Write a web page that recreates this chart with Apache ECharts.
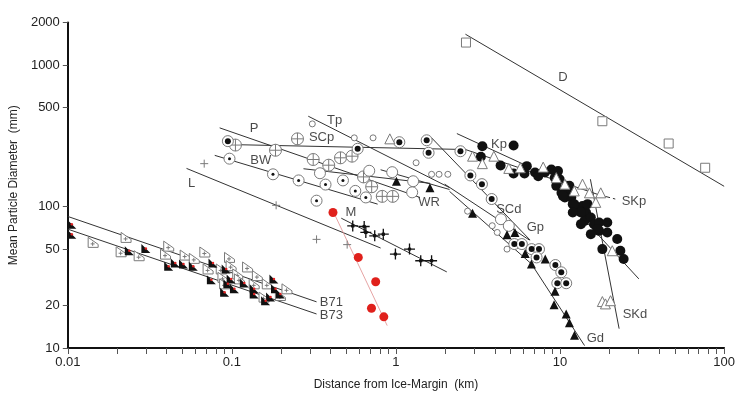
<!DOCTYPE html>
<html>
<head>
<meta charset="utf-8">
<script src="https://cdn.jsdelivr.net/npm/echarts@6/dist/echarts.min.js"></script>
<style>
html, body { margin: 0; padding: 0; background: #fff; }
#main { width: 738px; height: 396px; }
</style>
</head>
<body>
<div id="main"></div>
<script>
// axis ticks and labels
let xTickValues = [];
[0.01, 0.1, 1, 10].forEach(d => {
    for (let k = 1; k < 10; k++) xTickValues.push(+(d * k).toPrecision(3));
});
xTickValues.push(100);
let yLabelValues = [10, 20, 50, 100, 500, 1000, 2000];

// points, [distance km, diameter mm]
let b71_pts = [[0.01427, 55.8], [0.02265, 60.5], [0.02113, 47.9], [0.02721, 44.9], [0.0412, 52.5], [0.0394, 46.1],
    [0.0519, 45.4], [0.059, 43.0], [0.0684, 47.7], [0.0967, 43.7], [0.0989, 38.2], [0.0716, 36.2], [0.0861, 36.2],
    [0.1085, 33.4], [0.1111, 30.8], [0.0882, 31.6], [0.0903, 28.4], [0.143, 32.5], [0.1367, 28.4], [0.1643, 28.4],
    [0.2166, 26.2], [0.157, 22.9], [0.1975, 23.5], [0.1246, 37.4]];
let b73_pts = [[0.01058, 75.1], [0.01058, 63.8], [0.0237, 48.7], [0.0299, 50.6], [0.0412, 37.8], [0.0452, 39.9],
    [0.0507, 39.3], [0.0582, 37.8], [0.0767, 39.9], [0.075, 30.4], [0.0923, 36.2], [0.0989, 30.8], [0.0945, 28.4],
    [0.1036, 26.2], [0.0903, 24.8], [0.119, 28.8], [0.1367, 26.2], [0.1367, 24.1], [0.1605, 21.6], [0.172, 22.9],
    [0.1803, 30.8], [0.1844, 26.2], [0.1975, 24.1]];
let l_pts = [[0.0678, 201], [0.186, 102], [0.328, 58.6], [0.504, 53.8]];
let m_pts = [[0.545, 73.0], [0.64, 72.3], [0.655, 65.6], [0.742, 62.1], [0.837, 63.8], [0.992, 46.1], [1.209, 50.0],
    [1.415, 41.4], [1.648, 41.4]];
let m_red_pts = [[0.413, 90.7], [0.589, 43.7], [0.752, 29.4], [0.709, 19.1], [0.843, 16.6]];
let bw_pts = [[0.0967, 218], [0.178, 169], [0.255, 153], [0.372, 143], [0.475, 153], [0.565, 129], [0.655, 116],
    [0.328, 110]];
let p_pts = [[0.1051, 272], [0.1844, 250], [0.251, 301], [0.313, 215], [0.389, 196], [0.459, 221], [0.54, 227],
    [0.634, 162], [0.711, 138], [0.825, 118], [0.955, 118]];
let scp_pts = [[0.0945, 290], [0.584, 256], [1.048, 285], [1.538, 294], [1.58, 240], [2.47, 246]];
let scd_pts = [[2.84, 166], [3.34, 144], [3.83, 113], [5.26, 54.3], [5.85, 54.3], [6.71, 50.0], [7.44, 50.0],
    [7.19, 43.7], [9.36, 38.6], [10.17, 34.3], [9.62, 28.7], [10.9, 28.7]];
let tp_pts = [[0.309, 384], [0.557, 306], [0.725, 306], [1.326, 204], [1.648, 169], [1.83, 169], [2.07, 169],
    [2.73, 92.7], [3.86, 73.2], [4.14, 65.6], [4.75, 50.0]];
let wr_pts = [[0.344, 172], [0.687, 179], [0.948, 175], [1.272, 151], [1.255, 126], [4.36, 81.4], [4.87, 73.0]];
let g_pts = [[1.006, 151], [1.61, 136], [2.93, 89.7], [4.75, 63.3], [5.31, 65.6], [6.13, 46.5], [6.69, 39.3],
    [8.12, 42.6], [9.31, 25.2], [9.19, 20.2], [10.9, 17.4], [11.4, 15.1], [12.24, 12.3]];
let kp_pts = [[3.36, 267], [5.21, 270], [3.29, 225], [4.34, 195], [5.21, 171], [6.27, 193], [6.07, 171], [7.04, 174],
    [7.36, 164], [8.08, 174], [8.85, 183], [9.71, 178], [9.28, 160], [9.94, 156], [9.48, 140], [10.9, 140],
    [11.4, 129], [10.2, 125], [10.7, 116], [11.7, 116], [11.95, 104], [13.7, 101], [13.1, 93.1], [14.4, 90.7],
    [14.1, 79.2], [15.4, 83.7], [13.4, 75.1], [16.1, 75.1], [17.3, 77.1], [19.4, 77.1], [17.3, 67.3], [19.4, 65.6],
    [22.3, 58.9], [13.4, 90.7], [14.7, 104], [16.9, 69.2], [15.4, 63.8], [18.1, 50.0], [23.3, 48.7], [24.4, 42.6],
    [10.4, 119], [11.4, 140], [12.2, 104], [11.95, 90.7]];
let skp_pts = [[2.93, 227], [3.36, 201], [3.95, 227], [4.87, 186], [5.72, 188], [7.89, 190], [9.48, 160],
    [10.7, 144], [12.2, 129], [13.7, 144], [15.1, 125], [17.7, 125], [16.5, 107], [20.8, 48.7], [18.1, 21.3],
    [18.9, 20.5], [20.3, 21.6], [0.917, 301]];
let d_pts = [[2.67, 1443], [18.1, 401], [45.9, 279], [76.6, 188]];

// fitted lines
let b71_line = [[0.01, 85.1], [0.328, 21.2]];
let b73_line = [[0.01, 69.2], [0.328, 17.4]];
let l_line = [[0.0529, 186], [0.806, 50.9]];
let m_line = [[0.464, 82.7], [2.04, 34.5]];
let m_red_line = [[0.413, 93.1], [0.884, 14.4]];
let bw_line = [[0.0786, 230], [0.773, 104]];
let p_line = [[0.0842, 360], [1.40, 116]];
let scp_line = [[0.0882, 275], [2.65, 253]];
let tp_line = [[0.292, 435], [2.12, 136]];
let wr_line1 = [[0.273, 185], [1.61, 146]];
let wr_line2 = [[0.806, 182], [2.12, 132]];
let scd_line = [[1.648, 306], [6.57, 57.9]];
let gp_line = [[1.98, 144], [6.51, 57.9]];
let gd_line = [[2.12, 128], [6.69, 39.3], [14.1, 10.4]];
let kp_line = [[2.35, 328], [5.99, 199]];
let skp_line = [[2.65, 253], [16.9, 122]];
let skp_dash = [[16.9, 122], [21.7, 113]];
let kd_line = [[14.3, 78.8], [30.2, 30.8]];
let skd_line = [[15.3, 156], [22.9, 13.7]];
let d_line = [[2.65, 1653], [100, 139]];

// text labels
let labelNames = ['D', 'Kp', 'SKp', 'SKd', 'Gd', 'SCd', 'Gp', 'WR', 'Tp', 'SCp', 'P', 'BW', 'L', 'M', 'B71', 'B73'];
let labelPos = [[10.4, 818], [4.24, 275], [28.2, 109], [28.6, 17.2], [16.4, 11.6], [4.87, 95.7], [7.07, 71.1],
    [1.59, 107], [0.423, 405], [0.352, 306], [0.1367, 354], [0.15, 212], [0.0569, 145], [0.532, 90.7],
    [0.404, 21.1], [0.404, 17.0]];

let fontFamily = 'Liberation Sans, Arial, sans-serif';
let grayEdge = '#7a7a7a';

let circlePlus = 'path://M10,5 A5,5 0 1 1 0,5 A5,5 0 1 1 10,5 Z M0,5 L10,5 M5,0 L5,10';
let plusPath = 'path://M5,0 L5,10 M0,5 L10,5';
let starDot = 'path://M4.4,0 H5.6 V4.4 H10 V5.6 H5.6 V10 H4.4 V5.6 H0 V4.4 H4.4 Z M3.2,5 A1.8,1.8 0 1 1 6.8,5 A1.8,1.8 0 1 1 3.2,5 Z';
let bOpenPath = 'path://M0,0 L10,7 L10,10 L0,10 Z M2.5,6.5 L6.5,6.5 M4.5,4.5 L4.5,8.5';
let bFillPath = 'path://M0,0 L10,10 L0,10 Z';

function scatter(data, symbol, size, fill, edge, edgeWidth, z) {
    return {
        type: 'scatter',
        data: data,
        symbol: symbol,
        symbolSize: size,
        silent: true,
        z: z || 3,
        itemStyle: {
            color: fill,
            borderColor: edge || fill,
            borderWidth: edgeWidth || 0,
            opacity: 1
        }
    };
}

function fitLine(data, color, width, dashed) {
    return {
        type: 'line',
        data: data,
        symbol: 'none',
        silent: true,
        z: 2,
        lineStyle: {color: color || '#333', width: width || 1, type: dashed ? [5, 3] : 'solid'}
    };
}

let series = [
    fitLine(b71_line), fitLine(b73_line), fitLine(l_line), fitLine(m_line),
    fitLine(m_red_line, '#e39a9a', 0.9), fitLine(bw_line), fitLine(p_line), fitLine(scp_line),
    fitLine(tp_line), fitLine(wr_line1), fitLine(wr_line2), fitLine(scd_line), fitLine(gp_line),
    fitLine(gd_line), fitLine(kp_line), fitLine(skp_line), fitLine(skp_dash, '#333', 1, true),
    fitLine(kd_line), fitLine(skd_line), fitLine(d_line),

    scatter(b71_pts, bOpenPath, [10, 10], '#fff', grayEdge, 1),
    scatter(b73_pts, bFillPath, [9, 9], '#111', '#111', 0, 4),
    scatter(b73_pts, 'circle', 2.5, '#d22', '#d22', 0, 5),
    scatter(l_pts, plusPath, 8, 'none', grayEdge, 1),
    scatter(m_pts, starDot, 11, '#111'),
    scatter(m_red_pts, 'circle', 9, '#e0201b'),
    scatter(bw_pts, 'circle', 11, '#fff', grayEdge, 1),
    scatter(bw_pts, 'circle', 3, '#111', '#111', 0, 4),
    scatter(p_pts, circlePlus, 12, '#fff', grayEdge, 1),
    scatter(scp_pts.concat(scd_pts), 'circle', 11, '#fff', grayEdge, 1),
    scatter(scp_pts.concat(scd_pts), 'circle', 6, '#111', '#111', 0, 4),
    scatter(tp_pts, 'circle', 6, '#fff', grayEdge, 1),
    scatter(wr_pts, 'circle', 11, '#fff', grayEdge, 1),
    scatter(g_pts, 'triangle', 9, '#111'),
    scatter(kp_pts, 'circle', 10, '#111'),
    scatter(skp_pts, 'triangle', 10, '#fff', grayEdge, 1),
    scatter(d_pts, 'rect', 9, '#fff', grayEdge, 1),
    {
        type: 'scatter',
        silent: true,
        symbolSize: 0,
        z: 6,
        data: labelNames.map((n, i) => ({name: n, value: labelPos[i]})),
        label: {
            show: true,
            position: 'inside',
            formatter: '{b}',
            color: '#1a1a1a',
            fontSize: 13,
            fontFamily: fontFamily
        }
    }
];

let chart = echarts.init(document.getElementById('main'));

let option = {
    animation: false,
    backgroundColor: '#fff',
    grid: {left: 63, right: 10, top: 22.5, bottom: 46.7},
    xAxis: {
        type: 'log',
        min: 0.01,
        max: 100,
        name: 'Distance from Ice-Margin  (km)',
        nameLocation: 'middle',
        nameGap: 31,
        nameTextStyle: {color: '#222', fontSize: 12, fontFamily: fontFamily},
        axisLine: {show: true, onZero: false, lineStyle: {color: '#111', width: 2}},
        axisTick: {show: true, length: 6, lineStyle: {color: '#555'}, customValues: xTickValues},
        axisLabel: {
            color: '#222', fontSize: 13, fontFamily: fontFamily, margin: 8,
            formatter: v => String(+(+v).toPrecision(3))
        },
        splitLine: {show: false}
    },
    yAxis: [{
        type: 'log',
        logBase: 10,
        min: 10,
        max: 2000,
        name: 'Mean Particle Diameter  (mm)',
        nameLocation: 'middle',
        nameGap: 32,
        nameTextStyle: {color: '#222', fontSize: 12, fontFamily: fontFamily},
        axisLine: {show: true, onZero: false, lineStyle: {color: '#111', width: 2}},
        axisTick: {show: false},
        axisLabel: {
            color: '#222', fontSize: 13, fontFamily: fontFamily, margin: 8,
            customValues: yLabelValues,
            formatter: v => String(Math.round(v))
        },
        splitLine: {show: false}
    }, {
        // tick marks only, in log10 units
        type: 'value',
        position: 'left',
        min: 1,
        max: Math.log10(2000),
        axisLine: {show: false, onZero: false},
        axisLabel: {show: false},
        splitLine: {show: false},
        axisTick: {show: true, length: 5, lineStyle: {color: '#555'}, customValues: yLabelValues.map(v => Math.log10(v))}
    }],
    series: series
};

chart.setOption(option);
</script>
</body>
</html>
